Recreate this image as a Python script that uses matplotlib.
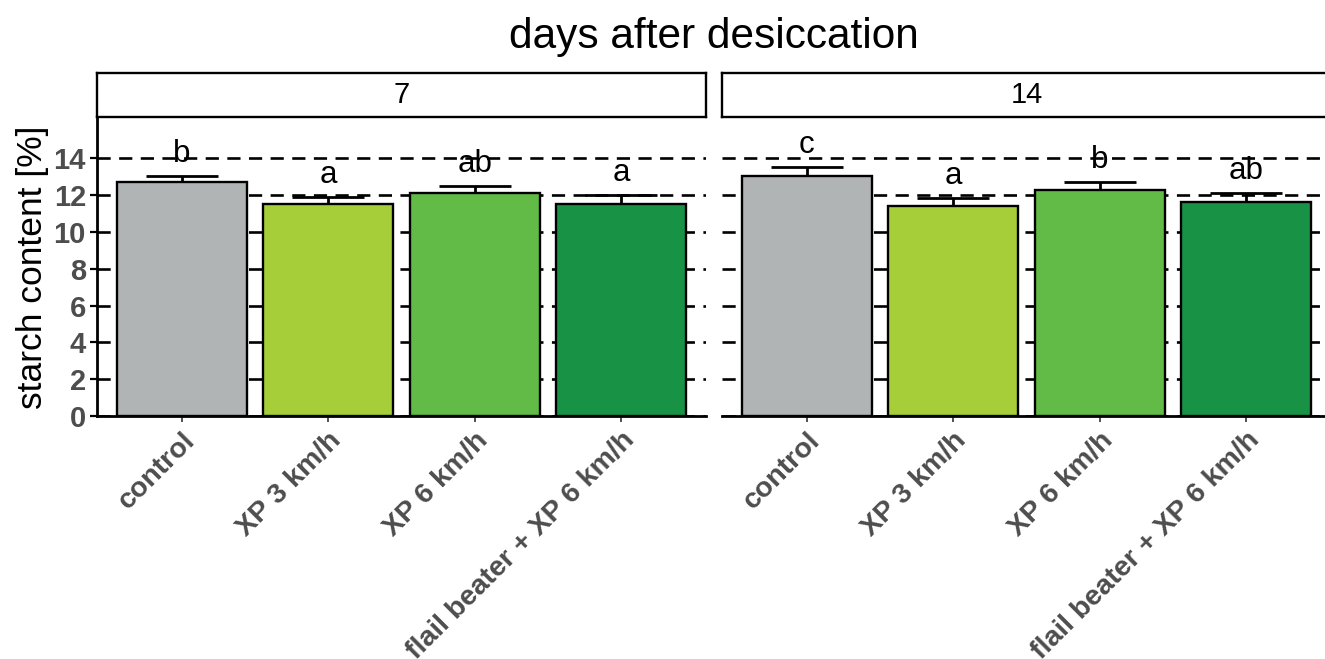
import numpy as np
import matplotlib
matplotlib.use('Agg')
import matplotlib.pyplot as plt

plt.rcParams['font.family'] = ['Liberation Sans', 'DejaVu Sans']

days = ['7', '14']
treatments = ['control', 'XP 3 km/h', 'XP 6 km/h', 'flail beater + XP 6 km/h']
colors = ['#B0B4B4', '#A6CE39', '#62BB46', '#189346']

starch_7 = [12.7, 11.5, 12.12, 11.53]
err_7 = [0.37, 0.43, 0.37, 0.47]
letters_7 = ['b', 'a', 'ab', 'a']

starch_14 = [13.07, 11.4, 12.27, 11.64]
err_14 = [0.45, 0.44, 0.46, 0.47]
letters_14 = ['c', 'a', 'b', 'ab']

panels = [(starch_7, err_7, letters_7), (starch_14, err_14, letters_14)]

W, H = 1325, 659
fig = plt.figure(figsize=(W / 100, H / 100), dpi=100)

ax_w = 609
lefts = [97, 722]
bottom_px, top_px = 416, 118
x = np.arange(len(treatments))

for k, (vals, errs, lets) in enumerate(panels):
    ax = fig.add_axes([lefts[k] / W, 1 - bottom_px / H, ax_w / W, (bottom_px - top_px) / H])
    for yy in range(0, 16, 2):
        ax.axhline(yy, color='black', lw=1.9, ls=(0, (5, 3.2)), zorder=0)
    ax.bar(x, vals, width=0.89, color=colors, edgecolor='black', lw=1.7, zorder=2)
    ax.errorbar(x, vals, yerr=[np.zeros(4), errs], fmt='none', ecolor='black',
                elinewidth=2, capsize=26, capthick=2, zorder=1.5)
    for xi, v, e, l in zip(x, vals, errs, lets):
        ax.annotate(l, (xi, v + e), xytext=(0, 5), textcoords='offset points',
                    ha='center', va='bottom', fontsize=22.5, zorder=3)
    ax.set_xlim(-0.58, 3.58)
    ax.set_ylim(0, 16.2)
    ax.set_yticks(range(0, 16, 2))
    ax.set_xticks(x)
    ax.set_xticklabels(treatments, rotation=45, ha='right', va='top',
                       rotation_mode='anchor', fontsize=20.5, fontweight='bold',
                       color='#4D4D4D')
    ax.tick_params(axis='x', length=4, width=1.2, color='#333333', pad=4)
    for s in ['top', 'right']:
        ax.spines[s].set_visible(False)
    ax.spines['bottom'].set_linewidth(2)
    if k == 0:
        ax.spines['left'].set_linewidth(2)
        ax.tick_params(axis='y', length=5, width=1.6, labelsize=21, labelcolor='#4D4D4D',
                       pad=3)
        for t in ax.get_yticklabels():
            t.set_fontweight('bold')
    else:
        ax.spines['left'].set_visible(False)
        ax.tick_params(axis='y', left=False, labelleft=False)

    # facet strip
    sax = fig.add_axes([lefts[k] / W, 1 - 117 / H, ax_w / W, 44 / H])
    sax.set_xticks([])
    sax.set_yticks([])
    for s in sax.spines.values():
        s.set_linewidth(1.7)
    sax.text(0.5, 0.5, days[k], ha='center', va='center', fontsize=21,
             transform=sax.transAxes)

fig.text(714 / W, 1 - 37 / H, 'days after desiccation', ha='center', va='center',
         fontsize=30.5)
fig.text(33 / W, 1 - 267 / H, 'starch content [%]', ha='center', va='center',
         rotation=90, fontsize=25.5)

fig.savefig('out.png', dpi=100)
